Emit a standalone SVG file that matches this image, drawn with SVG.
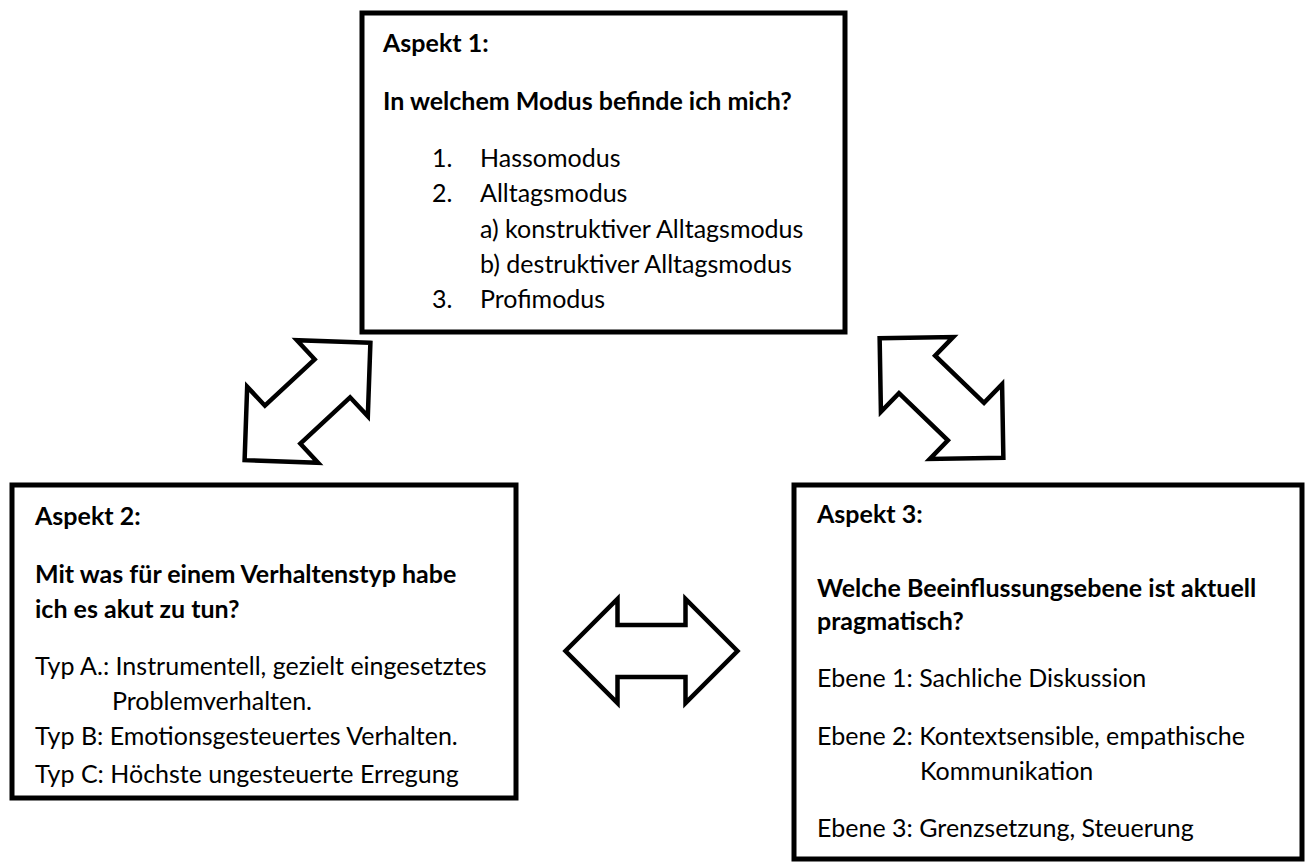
<svg xmlns="http://www.w3.org/2000/svg" width="1311" height="864" viewBox="0 0 1311 864">
<style>
.box{fill:#fff;stroke:#000;stroke-width:5}
.arr{fill:#fff;stroke:#000;stroke-width:4.5;stroke-linejoin:miter}
text{font-family:Lato,"Liberation Sans",sans-serif;font-size:25px;fill:#000}
.b{font-weight:bold}
</style>
<defs>
<polygon id="dbl" points="86,0 34,-52 34,-26 -34,-26 -34,-52 -86,0 -34,52 -34,26 34,26 34,52"/>
</defs>
<rect width="1311" height="864" fill="#fff"/>
<g id="connectors">
<use href="#dbl" class="arr" transform="translate(307.5,401.5) rotate(-43)"/>
<use href="#dbl" class="arr" transform="translate(941.5,398) rotate(44)"/>
<use href="#dbl" class="arr" transform="translate(651.5,651)"/>
</g>
<g id="aspekt1">
<rect class="box" x="362" y="13" width="483" height="319"/>
<text class="b" x="383" y="52">Aspekt 1:</text>
<text class="b" x="383" y="110">In welchem Modus befinde ich mich?</text>
<text x="432" y="167">1.</text><text x="480" y="167">Hassomodus</text>
<text x="432" y="202">2.</text><text x="480" y="202">Alltagsmodus</text>
<text x="480" y="238">a) konstruktiver Alltagsmodus</text>
<text x="480" y="273">b) destruktiver Alltagsmodus</text>
<text x="432" y="308">3.</text><text x="480" y="308">Profimodus</text>
</g>
<g id="aspekt2">
<rect class="box" x="12" y="485" width="504" height="313"/>
<text class="b" x="35" y="525">Aspekt 2:</text>
<text class="b" x="35" y="583">Mit was für einem Verhaltenstyp habe</text>
<text class="b" x="35" y="618">ich es akut zu tun?</text>
<text x="35" y="675">Typ A.: Instrumentell, gezielt eingesetztes</text>
<text x="112" y="710">Problemverhalten.</text>
<text x="35" y="745">Typ B: Emotionsgesteuertes Verhalten.</text>
<text x="35" y="783">Typ C: Höchste ungesteuerte Erregung</text>
</g>
<g id="aspekt3">
<rect class="box" x="794" y="485" width="508" height="374"/>
<text class="b" x="817" y="523">Aspekt 3:</text>
<text class="b" x="817" y="597">Welche Beeinflussungsebene ist aktuell</text>
<text class="b" x="817" y="630">pragmatisch?</text>
<text x="817" y="687">Ebene 1: Sachliche Diskussion</text>
<text x="817" y="745">Ebene 2: Kontextsensible, empathische</text>
<text x="920" y="780">Kommunikation</text>
<text x="817" y="837">Ebene 3: Grenzsetzung, Steuerung</text>
</g>
</svg>
